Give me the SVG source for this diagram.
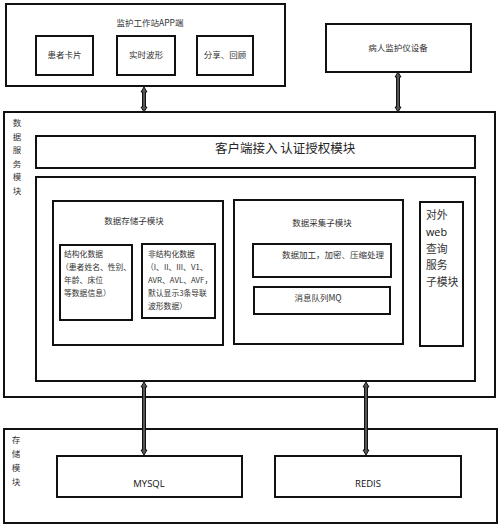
<svg xmlns="http://www.w3.org/2000/svg" width="500" height="527" viewBox="0 0 500 527">
<style>
.box{fill:#fff;stroke:#111;stroke-width:2}
.t{font-family:"Noto Sans CJK SC","Liberation Sans",sans-serif;fill:#333;font-size:8.5px}
.c{text-anchor:middle}
.big{font-size:12.5px;fill:#222}
.sm{font-size:7.8px}
.web{font-size:10.8px}
.lat{font-family:"Open Sans","Liberation Sans","Noto Sans CJK SC",sans-serif;fill:#111}
.arr{fill:#555;stroke:#111;stroke-width:1}
</style>
<rect width="500" height="527" fill="#fff"/>
<g id="app">
<rect class="box" x="6" y="4" width="279" height="82"/>
<text class="t c" x="150" y="26">监护工作站APP端</text>
</g>
<g id="card"><rect class="box" x="36" y="36" width="57" height="39"/><text class="t c" x="64.5" y="58">患者卡片</text></g>
<g id="wave"><rect class="box" x="117" y="36" width="58" height="39"/><text class="t c" x="146" y="58">实时波形</text></g>
<g id="share"><rect class="box" x="197" y="36" width="56" height="39"/><text class="t c" x="225" y="58">分享、回顾</text></g>
<g id="device"><rect class="box" x="326" y="24" width="145" height="48"/><text class="t c" x="398" y="51">病人监护仪设备</text></g>
<g id="service">
<rect class="box" x="4" y="112" width="491" height="285"/>
<text class="t c" x="17"><tspan x="17" y="126">数</tspan><tspan x="17" y="140">据</tspan><tspan x="17" y="153">服</tspan><tspan x="17" y="167">务</tspan><tspan x="17" y="180">模</tspan><tspan x="17" y="194">块</tspan></text>
</g>
<g id="auth"><rect class="box" x="36" y="136" width="439" height="32"/><text class="t big" x="215" y="153">客户端接入 认证授权模块</text></g>
<g id="inner"><rect class="box" x="36" y="177" width="439" height="204"/></g>
<g id="storage-sub">
<rect class="box" x="53" y="201" width="170" height="144"/>
<text class="t c" x="134" y="224">数据存储子模块</text>
</g>
<g id="structured">
<rect class="box" x="60" y="245" width="72" height="75"/>
<text class="t sm"><tspan x="64" y="257">结构化数据</tspan><tspan x="61" y="270">（患者姓名、性别、</tspan><tspan x="64" y="283">年龄、床位</tspan><tspan x="64" y="296">等数据信息）</tspan></text>
</g>
<g id="unstructured">
<rect class="box" x="142" y="244" width="73" height="74"/>
<text class="t sm"><tspan x="148" y="257">非结构化数据</tspan><tspan x="146" y="270">（I、II、III、V1、</tspan><tspan x="148" y="283">AVR、AVL、AVF，</tspan><tspan x="148" y="296">默认显示3条导联</tspan><tspan x="148" y="309">波形数据）</tspan></text>
</g>
<g id="collect-sub">
<rect class="box" x="234" y="200" width="169" height="144"/>
<text class="t c" x="322" y="226">数据采集子模块</text>
</g>
<g id="process"><rect class="box" x="253" y="244" width="138" height="33"/><text class="t c" x="333" y="258">数据加工，加密、压缩处理</text></g>
<g id="mq"><rect class="box" x="254" y="287" width="136" height="27"/><text class="t c" x="318" y="301">消息队列MQ</text></g>
<g id="web">
<rect class="box" x="420" y="202" width="43" height="144"/>
<text class="t web"><tspan x="426" y="219">对外</tspan><tspan x="426" y="236" class="lat">web</tspan><tspan x="426" y="253">查询</tspan><tspan x="426" y="269">服务</tspan><tspan x="426" y="286">子模块</tspan></text>
</g>
<g id="store">
<rect class="box" x="4" y="429" width="493" height="94"/>
<text class="t c" x="16"><tspan x="16" y="443">存</tspan><tspan x="16" y="457">储</tspan><tspan x="16" y="471">模</tspan><tspan x="16" y="485">块</tspan></text>
</g>
<g id="mysql"><rect class="box" x="57" y="456" width="185" height="41"/><text class="lat c" style="font-size:9.5px" x="149" y="487">MYSQL</text></g>
<g id="redis"><rect class="box" x="275" y="456" width="186" height="41"/><text class="lat c" style="font-size:9.5px" x="368" y="487">REDIS</text></g>
<g id="connectors">
<path class="arr" d="M144,87 L147,92 L145.5,92 L145.5,107 L147,107 L144,112 L141,107 L142.5,107 L142.5,92 L141,92 Z"/>
<path class="arr" d="M398,72 L401,77 L399.5,77 L399.5,107 L401,107 L398,112 L395,107 L396.5,107 L396.5,77 L395,77 Z"/>
<path class="arr" d="M144,382 L147,387 L145.5,387 L145.5,450 L147,450 L144,455 L141,450 L142.5,450 L142.5,387 L141,387 Z"/>
<path class="arr" d="M366,382 L369,387 L367.5,387 L367.5,450 L369,450 L366,455 L363,450 L364.5,450 L364.5,387 L363,387 Z"/>
</g>
</svg>
